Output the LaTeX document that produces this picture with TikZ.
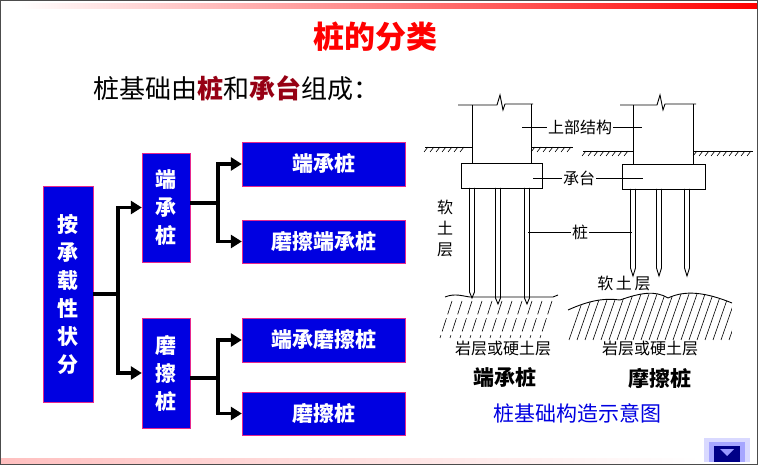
\documentclass[tikz,border=0pt]{standalone}
\usepackage{fontspec}
\setmainfont{Noto Sans CJK SC}
\usetikzlibrary{arrows.meta}
\definecolor{boxblue}{RGB}{0,0,225}
\definecolor{boxpink}{RGB}{230,40,140}
\definecolor{darkred}{RGB}{150,0,20}
\tikzset{
    box/.style={draw=boxpink,fill=boxblue,text=white,inner sep=0pt,font=\fontsize{21}{28}\selectfont\bfseries,align=center},
    conn/.style={line width=3.5pt,black},
    arr/.style={conn,-{Triangle[length=11pt,width=13pt]}},
    lbl/.style={font=\fontsize{16}{16}\selectfont,inner sep=1pt},
}
\begin{document}
\begin{tikzpicture}[x=1pt,y=-1pt,line cap=butt]
\useasboundingbox (0,0) rectangle (760,465);
\fill[white] (0,0) rectangle (760,465);
\draw[gray!60!black] (0.5,0.5) rectangle (757,464.5);
\shade[left color=white,right color=red] (20,4) rectangle (757,9);
\shade[left color=red!25,right color=white] (1,458) rectangle (700,463);
% title
\node[text=red,font=\fontsize{31}{31}\selectfont\bfseries] (title) at (375,37) {桩的分类};
\node[anchor=west,font=\fontsize{26}{26}\selectfont] (sub) at (90,88)
    {桩基础由\textcolor{darkred}{\bfseries 桩}和\textcolor{darkred}{\bfseries 承台}组成：};

% classification boxes
\node[box,minimum width=50pt,minimum height=216pt] (all) at (68,294) {按\\承\\载\\性\\状\\分};
\node[box,minimum width=48pt,minimum height=109pt] (dc) at (166,207.5) {端\\承\\桩};
\node[box,minimum width=48pt,minimum height=110pt] (mc) at (166,373) {磨\\擦\\桩};
\node[box,minimum width=163pt,minimum height=44pt] (dc1) at (323.5,164) {端承桩};
\node[box,minimum width=163pt,minimum height=43pt] (dc2) at (323.5,241.5) {磨擦端承桩};
\node[box,minimum width=163pt,minimum height=44pt] (mc1) at (323.5,340) {端承磨擦桩};
\node[box,minimum width=163pt,minimum height=43pt] (mc2) at (323.5,413.5) {磨擦桩};

\coordinate (j0) at (118,294);
\coordinate (j1) at (218,203);
\coordinate (j2) at (218,378);
\draw[conn] (all.east|-j0) -- (j0);
\draw[arr] (j0|-dc.west) ++(0,-1.75) -- ++(0,1.75) -- (dc.west);
\draw[arr] (j0) |- (mc.west);
\draw[conn] (j0) -- (j0|-dc.west);
\draw[conn] (dc.east|-j1) -- (j1);
\draw[arr] (j1) |- (dc1.west);
\draw[arr] (j1) |- (dc2.west);
\draw[conn] (mc.east|-j2) -- (j2);
\draw[arr] (j2) |- (mc1.west);
\draw[arr] (j2) |- (mc2.west);

% end-bearing pile sketch
\begin{scope}[line width=0.9pt]
\draw (458,105) -- (497,105) -- (500,95) -- (503,110) -- (505,104) -- (533,104);
\draw (472,105) -- (472,163) (531,104) -- (531,163);
\draw (425,147) -- (472,147) (531,147) -- (573,147);
\foreach \x in {428,434,...,468} \draw[line width=0.6pt] (\x,147) -- (\x-4,152);
\foreach \x in {535,541,...,571} \draw[line width=0.6pt] (\x,147) -- (\x-4,152);
\draw (461,163) rectangle (542,188);
\foreach \x/\t in {472/298,498/304,527/304}
  \draw (\x-2.5,188) -- (\x-2.5,\t-6) -- (\x,\t) -- (\x+2.5,\t-6) -- (\x+2.5,188);
\draw (445,297) .. controls (455,293) and (462,296) .. (470,297) -- (553,297) .. controls (556,296) .. (558,295);
\foreach \x in {452,462,...,552}
  \draw[line width=0.6pt,dash pattern=on 14pt off 4pt] (\x,301) -- (\x-12,338);
% friction pile sketch
\draw (620,105) -- (657,105) -- (660,95) -- (663,110) -- (665,104) -- (696,104);
\draw (633,105) -- (633,164) (693,104) -- (693,164);
\draw (583,151) -- (633,151) (693,151) -- (753,151);
\foreach \x in {586,592,...,628} \draw[line width=0.6pt] (\x,151) -- (\x-4,156);
\foreach \x in {697,703,...,751} \draw[line width=0.6pt] (\x,151) -- (\x-4,156);
\draw (622,164) rectangle (705,189);
\foreach \x in {633,659,687}
  \draw (\x-2.5,189) -- (\x-2.5,268) -- (\x,276) -- (\x+2.5,268) -- (\x+2.5,189);
\draw (568,310) .. controls (590,300) and (605,298) .. (620,300)
  .. controls (640,293) and (655,290) .. (668,298)
  .. controls (685,290) and (705,292) .. (732,303);
\begin{scope}
\clip (568,310) .. controls (590,300) and (605,298) .. (620,300)
  .. controls (640,293) and (655,290) .. (668,298)
  .. controls (685,290) and (705,292) .. (732,303) -- (732,340) -- (568,340) -- cycle;
\foreach \x in {585,593,...,745}
  \draw[line width=0.6pt] (\x,294) -- (\x-16,340);
\end{scope}
\end{scope}
% labels
\node[lbl] (sup) at (580,127) {上部结构};
\node[lbl] (cap) at (579,178) {承台};
\node[lbl] (pile) at (580,232) {桩};
\draw[line width=0.6pt] (522,127) -- (sup.west) (sup.east) -- (642,127);
\draw[line width=0.6pt] (533,178) -- (cap.west) (cap.east) -- (643,178);
\draw[line width=0.6pt] (528,232) -- (pile.west) (pile.east) -- (632,232);
\node[lbl,align=center,font=\fontsize{16}{21}\selectfont] (soft1) at (445,228) {软\\土\\层};
\node[lbl] (soft2) at (624,283) {软\,土\,层};
\node[lbl] (rock1) at (503,348) {岩层或硬土层};
\node[lbl] (rock2) at (650,348) {岩层或硬土层};
\node[font=\fontsize{21}{21}\selectfont\bfseries] (cap1) at (505,378) {端承桩};
\node[font=\fontsize{21}{21}\selectfont\bfseries] (cap2) at (660,378) {摩擦桩};
\node[text=boxblue,font=\fontsize{21}{21}\selectfont] (fig) at (577,413) {桩基础构造示意图};
% nav button
\fill[blue!15] (704,438) rectangle (750,462);
\fill[blue!35] (709,442) rectangle (745,462);
\fill[boxblue!60!black] (714,446) rectangle (740,462);
\fill[blue!40] (720,449) -- (734,449) -- (727,456) -- cycle;
\end{tikzpicture}
\end{document}
